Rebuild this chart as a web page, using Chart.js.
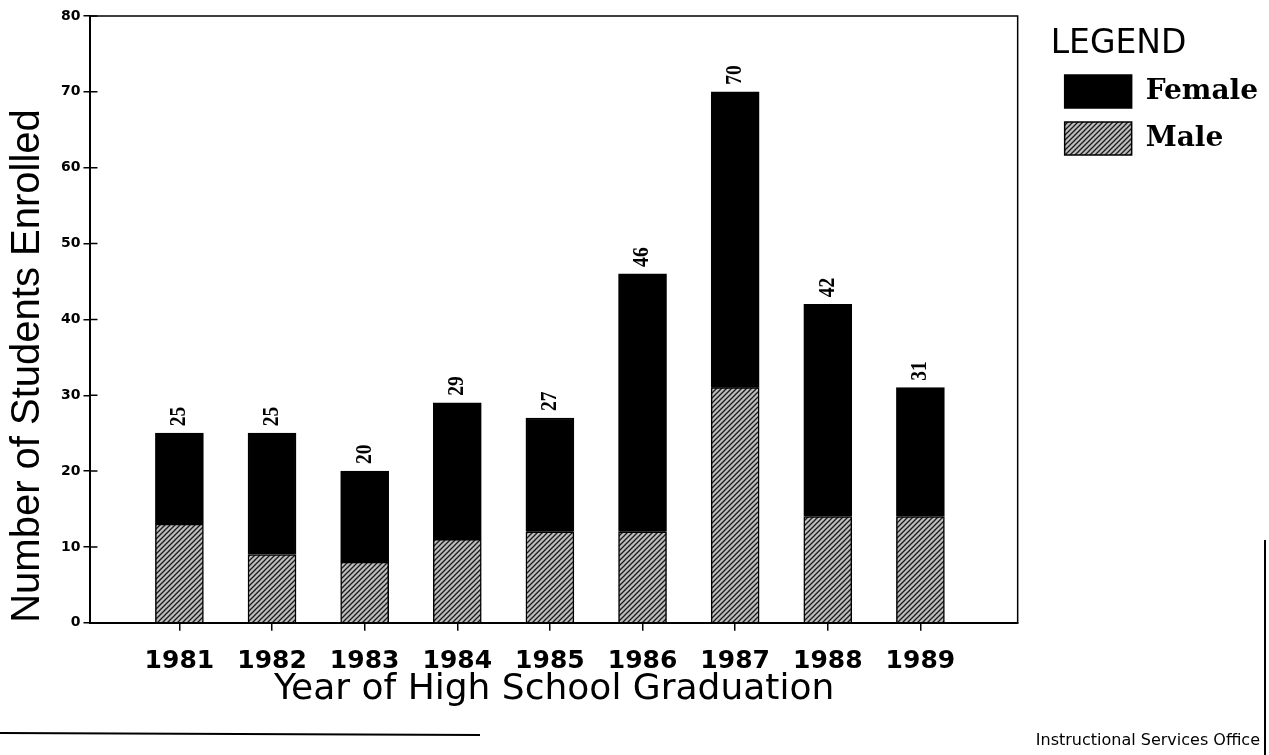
<!DOCTYPE html>
<html>
<head>
<meta charset="utf-8">
<script src="https://cdn.jsdelivr.net/npm/chart.js@4"></script>
<style>
  html, body { margin: 0; padding: 0; background: #fff; }
  #wrap { width: 1269px; height: 755px; }
</style>
</head>
<body>
<div id="wrap"><canvas id="enrollChart"></canvas></div>
<script>
const years = [1981, 1982, 1983, 1984, 1985, 1986, 1987, 1988, 1989];
const maleCounts = [13, 9, 8, 11, 12, 12, 31, 14, 14];
const femaleCounts = [12, 16, 12, 18, 15, 34, 39, 28, 17];
const yTicks = [0, 10, 20, 30, 40, 50, 60, 70, 80];

function makeHatch() {
    const c = document.createElement("canvas");
    c.width = 5;
    c.height = 5;
    const g = c.getContext("2d");
    g.fillStyle = "#bdbdbd";
    g.fillRect(0, 0, 5, 5);
    g.strokeStyle = "#1a1a1a";
    g.lineWidth = 1.3;
    g.beginPath();
    g.moveTo(0, 5); g.lineTo(5, 0);
    g.moveTo(-1, 1); g.lineTo(1, -1);
    g.moveTo(4, 6); g.lineTo(6, 4);
    g.stroke();
    return g.createPattern(c, "repeat");
}

// frame, inner ticks, totals above the bars, page edge lines
const framePlugin = {
    id: "frame",
    afterDatasetsDraw(chart) {
        const { ctx, chartArea } = chart;
        const yScale = chart.scales.y;
        ctx.save();
        ctx.strokeStyle = "#000";
        ctx.lineWidth = 1.5;
        ctx.beginPath();
        ctx.moveTo(chartArea.left, chartArea.top);
        ctx.lineTo(chartArea.right, chartArea.top);
        ctx.lineTo(chartArea.right, chartArea.bottom);
        ctx.stroke();

        ctx.beginPath();
        yTicks.forEach(v => {
            const py = yScale.getPixelForValue(v);
            ctx.moveTo(chartArea.left, py);
            ctx.lineTo(chartArea.left + 7, py);
        });
        ctx.stroke();

        const meta = chart.getDatasetMeta(1);
        ctx.font = 'bold 23px "Liberation Serif"';
        ctx.fillStyle = "#000";
        ctx.textAlign = "left";
        ctx.textBaseline = "middle";
        meta.data.forEach((bar, i) => {
            ctx.save();
            ctx.translate(bar.x, bar.y - 7);
            ctx.rotate(-Math.PI / 2);
            ctx.scale(0.85, 1);
            ctx.fillText(String(maleCounts[i] + femaleCounts[i]), 0, 0);
            ctx.restore();
        });

        ctx.lineWidth = 2;
        ctx.beginPath();
        ctx.moveTo(0, 733);
        ctx.lineTo(480, 735);
        ctx.moveTo(1265, 540);
        ctx.lineTo(1265, 755);
        ctx.stroke();
        ctx.restore();
    }
};

const hatch = makeHatch();
const canvas = document.getElementById("enrollChart");

new Chart(canvas, {
    type: "bar",
    data: {
        datasets: [{
            label: "Male",
            data: years.map((yr, i) => ({ x: yr, y: maleCounts[i] })),
            backgroundColor: hatch,
            borderColor: "#000",
            borderWidth: 1.5,
            barThickness: 48
        }, {
            label: "Female",
            data: years.map((yr, i) => ({ x: yr, y: femaleCounts[i] })),
            backgroundColor: "#000",
            borderColor: "#000",
            borderWidth: 1.5,
            barThickness: 48
        }]
    },
    options: {
        responsive: true,
        maintainAspectRatio: false,
        animation: false,
        layout: {
            padding: { top: 16, left: 4, right: 9, bottom: 0 }
        },
        plugins: {
            tooltip: { enabled: false },
            legend: {
                position: "right",
                align: "start",
                reverse: true,
                title: {
                    display: true,
                    text: "LEGEND",
                    position: "start",
                    color: "#000",
                    font: { family: "DejaVu Sans", size: 33, lineHeight: 1 },
                    padding: { top: 12, bottom: 0 }
                },
                labels: {
                    boxWidth: 67,
                    boxHeight: 33,
                    padding: 14,
                    color: "#000",
                    font: { family: "DejaVu Serif", weight: "bold", size: 28 }
                }
            },
            subtitle: {
                display: true,
                position: "bottom",
                align: "end",
                text: "Instructional Services Office",
                color: "#000",
                font: { family: "DejaVu Sans", size: 16 },
                padding: { top: 23, bottom: 5 }
            }
        },
        scales: {
            x: {
                type: "linear",
                min: 1980.04,
                max: 1990.05,
                offset: false,
                stacked: true,
                ticks: {
                    stepSize: 1,
                    includeBounds: false,
                    autoSkip: false,
                    maxRotation: 0,
                    padding: 18,
                    color: "#000",
                    font: { family: "DejaVu Sans", weight: "bold", size: 25, lineHeight: 1 },
                    callback: v => years.includes(v) ? String(v) : ""
                },
                grid: {
                    offset: false,
                    drawOnChartArea: false,
                    tickLength: 8,
                    lineWidth: 1.5,
                    color: c => (c.tick && years.includes(c.tick.value)) ? "#000" : "rgba(0,0,0,0)"
                },
                border: { color: "#000", width: 2 },
                title: {
                    display: true,
                    text: "Year of High School Graduation",
                    color: "#000",
                    font: { family: "DejaVu Sans", size: 36, lineHeight: 1 },
                    padding: { top: -20, bottom: 0 }
                }
            },
            y: {
                min: 0,
                max: 80,
                stacked: true,
                ticks: {
                    stepSize: 10,
                    padding: 3,
                    color: "#000",
                    font: { family: "DejaVu Sans", weight: "bold", size: 14 }
                },
                grid: {
                    drawOnChartArea: false,
                    tickLength: 7,
                    lineWidth: 1.5,
                    color: "#000"
                },
                border: { color: "#000", width: 2 },
                title: {
                    display: true,
                    align: "start",
                    text: "Number of Students Enrolled",
                    color: "#000",
                    font: { family: "Liberation Sans", size: 40 },
                    padding: { top: 0, bottom: 6 }
                }
            },
            y2: {
                position: "right",
                display: true,
                grid: { display: false },
                ticks: { display: false },
                border: { display: false },
                afterFit(scale) {
                    scale.width = 33;
                }
            }
        }
    },
    plugins: [framePlugin]
});
</script>
</body>
</html>
